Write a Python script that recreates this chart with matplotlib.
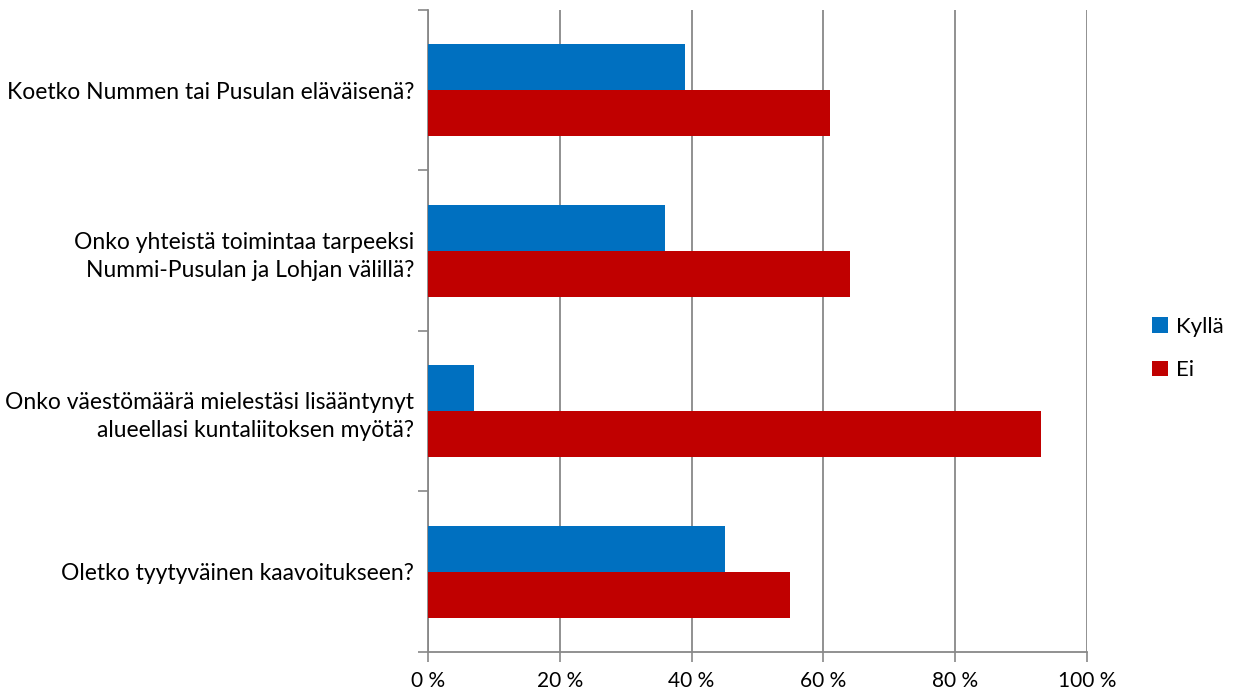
import numpy as np
import matplotlib.pyplot as plt

plt.rcParams['font.family'] = ['Lato', 'DejaVu Sans']

questions = ['Koetko Nummen tai Pusulan eläväisenä?',
             'Onko yhteistä toimintaa tarpeeksi\nNummi-Pusulan ja Lohjan välillä?',
             'Onko väestömäärä mielestäsi lisääntynyt\nalueellasi kuntaliitoksen myötä?',
             'Oletko tyytyväinen kaavoitukseen?']
kylla = [39, 36, 7, 45]
ei = [61, 64, 93, 55]
xticks = [0, 20, 40, 60, 80, 100]

fig = plt.figure(figsize=(12.36, 6.97), dpi=100)
ax = fig.add_axes([0.3463, 0.0646, 0.5331, 0.9211])

y = np.arange(len(questions))
h = 0.2875
ax.barh(y - h / 2, kylla, height=h, color='#0070C0', label='Kyllä', zorder=3)
ax.barh(y + h / 2, ei, height=h, color='#C00000', label='Ei', zorder=3)

ax.set_xlim(0, 100)
ax.set_ylim(len(questions) - 0.5, -0.5)
ax.set_xticks(xticks)
ax.set_xticklabels([f'{v} %' for v in xticks], fontsize=15)
ax.set_yticks(y)
ax.set_yticklabels(questions, fontsize=16.5, ha='right', multialignment='right',
                   linespacing=1.4)
ax.set_yticks(np.arange(-0.5, len(questions)), minor=True)
ax.tick_params(axis='y', which='major', length=0, pad=10)
ax.tick_params(axis='y', which='minor', length=7, color='#888888', width=1.2)
ax.tick_params(axis='x', length=7, color='#888888', width=1.2, pad=7)

ax.grid(axis='x', color='#888888', linewidth=1.3, zorder=0)
for s in ['top', 'right']:
    ax.spines[s].set_visible(False)
for s in ['left', 'bottom']:
    ax.spines[s].set_color('#888888')
    ax.spines[s].set_linewidth(1.3)

ax.legend(loc='center left', bbox_to_anchor=(0.916, 0.5), bbox_transform=fig.transFigure,
          frameon=False, fontsize=16, handlelength=0.7, handleheight=0.7,
          labelspacing=1.05, handletextpad=0.35)

fig.savefig('out.png', dpi=100)
